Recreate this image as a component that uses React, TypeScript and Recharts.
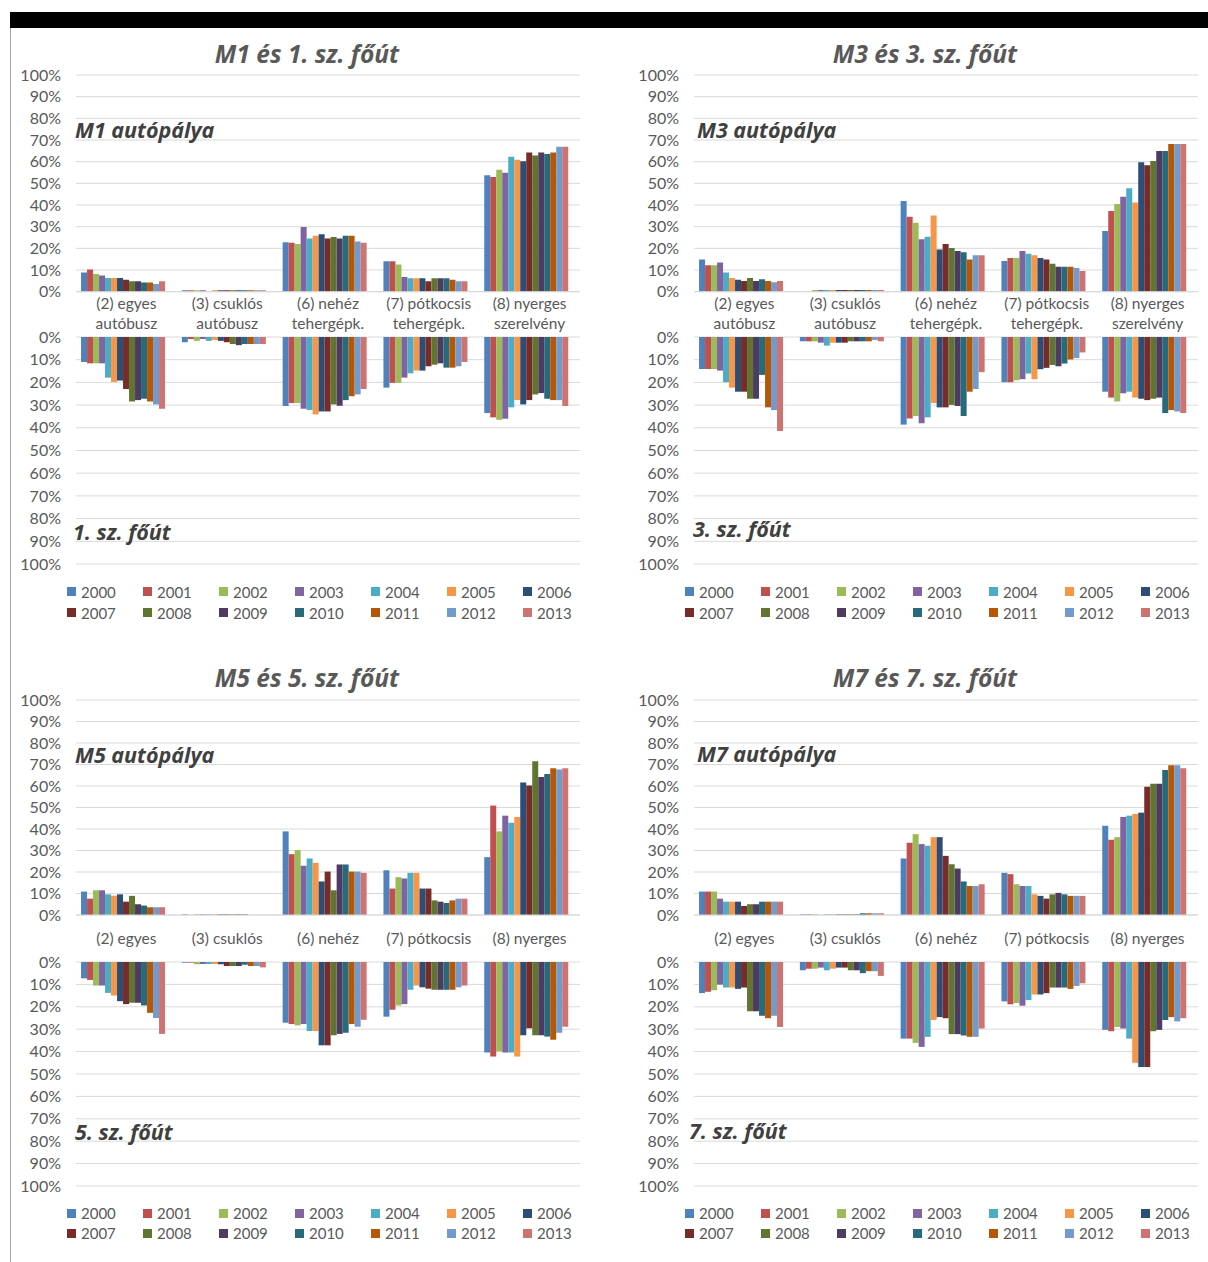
import { BarChart, Bar, XAxis, YAxis, CartesianGrid } from 'recharts'

const years = ['2000', '2001', '2002', '2003', '2004', '2005', '2006', '2007', '2008', '2009', '2010', '2011', '2012', '2013']
const colors = ['#4F81BD', '#C0504D', '#9BBB59', '#8064A2', '#4BACC6', '#F79646', '#2C4D75', '#772C2A', '#5F7530', '#4D3B62', '#276A7C', '#B65708', '#729ACA', '#CD7371']

const catsLong = ['(2) egyes\nautóbusz', '(3) csuklós\nautóbusz', '(6) nehéz\ntehergépk.', '(7) pótkocsis\ntehergépk.', '(8) nyerges\nszerelvény']
const catsShort = ['(2) egyes', '(3) csuklós', '(6) nehéz', '(7) pótkocsis', '(8) nyerges']
const pctTicks = [0, 0.1, 0.2, 0.3, 0.4, 0.5, 0.6, 0.7, 0.8, 0.9, 1]

// rows = categories, columns = years 2000..2013, values in %
const m1Motorway = [
  [8.8, 10.2, 8.2, 7.5, 6.3, 6.3, 6.3, 5.5, 4.8, 4.8, 4.2, 4.2, 3.5, 4.8],
  [0.7, 0.7, 0.7, 0.7, 0, 0.7, 0.7, 0.7, 0.7, 0.7, 0.7, 0.7, 0.7, 0.7],
  [22.8, 22.6, 22.0, 29.8, 24.5, 25.8, 26.5, 24.6, 25.2, 24.5, 25.8, 25.8, 23.2, 22.6],
  [14.0, 14.0, 12.6, 6.8, 6.2, 6.2, 6.2, 4.8, 6.2, 6.2, 6.2, 5.5, 4.8, 4.8],
  [53.7, 52.9, 56.3, 54.9, 62.3, 60.9, 60.2, 64.2, 62.9, 64.2, 63.5, 64.2, 66.9, 66.9],
]
const m1Road = [
  [11.0, 11.6, 11.6, 11.6, 17.9, 19.8, 19.2, 22.9, 28.4, 27.8, 27.2, 28.4, 29.7, 31.6],
  [2.3, 0.9, 1.7, 0.9, 1.7, 1.3, 1.7, 2.3, 3.1, 3.6, 3.1, 3.1, 3.1, 3.1],
  [30.4, 29.1, 29.1, 31.6, 32.2, 34.1, 32.8, 32.8, 29.7, 30.3, 27.8, 26.1, 25.3, 22.9],
  [22.3, 20.2, 20.2, 17.9, 16.0, 14.8, 14.8, 12.9, 12.2, 11.6, 13.5, 13.5, 12.9, 11.0],
  [33.5, 35.4, 36.5, 36.0, 31.0, 27.8, 29.7, 27.8, 25.3, 24.7, 27.2, 27.8, 27.8, 30.4],
]
const m3Motorway = [
  [14.8, 12.2, 12.2, 13.5, 8.9, 6.3, 5.5, 4.9, 6.3, 4.9, 5.7, 4.9, 4.3, 4.9],
  [0, 0, 0.8, 0.8, 0.8, 0.8, 0.8, 0.8, 0.8, 0.8, 0.8, 0.8, 0.8, 0.8],
  [41.8, 34.6, 31.8, 24.2, 25.4, 35.2, 19.5, 22.0, 20.2, 18.8, 18.2, 14.9, 16.8, 16.8],
  [14.2, 15.5, 15.5, 18.8, 17.5, 16.8, 15.5, 14.9, 12.9, 11.5, 11.5, 11.5, 10.9, 9.5],
  [28.0, 37.2, 40.5, 43.8, 47.7, 41.2, 59.7, 58.3, 60.3, 64.9, 64.9, 68.2, 68.2, 68.2],
]
const m3Road = [
  [14.1, 14.1, 14.1, 14.8, 19.9, 22.3, 24.1, 24.1, 27.2, 27.2, 16.7, 31.0, 32.2, 41.4],
  [1.9, 1.9, 1.9, 2.5, 3.8, 2.5, 2.5, 2.5, 1.9, 1.9, 1.9, 1.9, 1.3, 1.9],
  [38.6, 35.9, 34.8, 38.0, 35.4, 29.1, 31.0, 31.0, 29.9, 30.4, 34.8, 24.1, 22.9, 15.5],
  [19.9, 19.9, 19.1, 18.6, 16.1, 18.6, 14.2, 13.6, 12.3, 12.9, 11.7, 9.9, 9.3, 6.8],
  [24.1, 26.7, 28.4, 24.8, 24.1, 26.7, 27.2, 27.8, 27.2, 26.7, 33.5, 32.2, 32.8, 33.5],
]
const m5Motorway = [
  [10.9, 7.6, 11.5, 11.5, 9.6, 9.0, 9.6, 6.2, 8.9, 5.0, 4.4, 3.6, 3.6, 3.6],
  [0.3, 0, 0.3, 0.3, 0.3, 0.3, 0.3, 0.3, 0.3, 0.3, 0.3, 0, 0, 0],
  [38.9, 28.3, 30.2, 22.9, 26.3, 24.3, 15.6, 20.2, 11.5, 23.5, 23.5, 20.2, 20.2, 19.6],
  [20.8, 12.3, 17.6, 17.0, 19.6, 19.6, 12.3, 12.3, 6.8, 6.2, 5.6, 6.8, 7.6, 7.6],
  [26.9, 50.9, 38.9, 46.2, 42.9, 45.6, 61.6, 60.2, 71.5, 64.2, 65.6, 68.3, 67.7, 68.3],
]
const m5Road = [
  [7.3, 8.0, 10.5, 10.5, 13.8, 15.0, 17.5, 18.8, 18.2, 18.2, 19.4, 22.7, 25.0, 32.1],
  [0.3, 0.3, 1.0, 0.9, 0.9, 0.9, 1.0, 1.8, 1.8, 1.8, 1.2, 1.8, 1.8, 2.4],
  [27.1, 27.7, 28.3, 27.7, 30.8, 30.8, 37.2, 37.2, 32.7, 32.1, 31.6, 27.7, 28.9, 25.8],
  [24.4, 21.3, 19.4, 18.8, 12.4, 10.5, 11.3, 11.9, 12.4, 12.4, 12.4, 12.4, 11.3, 10.5],
  [40.4, 42.2, 39.9, 40.4, 40.4, 42.2, 32.7, 29.6, 32.7, 32.7, 33.3, 34.7, 31.6, 28.9],
]
const m7Motorway = [
  [10.9, 10.9, 10.9, 7.6, 6.2, 6.2, 6.2, 4.2, 5.0, 5.0, 6.2, 6.2, 6.2, 6.2],
  [0.3, 0.3, 0.3, 0, 0.3, 0.3, 0.3, 0.3, 0.3, 0.3, 0.8, 0.8, 0.8, 0.8],
  [26.3, 33.6, 37.6, 33.0, 32.2, 36.2, 36.2, 27.5, 23.6, 21.6, 15.6, 13.5, 13.5, 14.3],
  [19.6, 19.0, 14.3, 13.5, 13.5, 9.6, 8.9, 7.6, 9.6, 10.3, 9.6, 8.9, 8.9, 8.9],
  [41.5, 35.0, 36.2, 45.6, 46.2, 47.0, 47.6, 59.6, 61.0, 61.0, 67.5, 69.7, 69.7, 68.3],
]
const m7Road = [
  [13.9, 13.3, 12.6, 10.1, 11.4, 11.4, 12.0, 11.4, 22.0, 22.0, 24.0, 25.1, 24.0, 29.0],
  [3.7, 3.0, 3.0, 2.5, 3.7, 3.0, 2.5, 2.5, 3.7, 3.7, 5.0, 4.1, 4.1, 6.2],
  [34.2, 34.2, 36.1, 37.9, 33.4, 25.9, 24.6, 25.1, 32.2, 32.2, 32.8, 33.4, 33.4, 29.7],
  [17.6, 18.9, 18.3, 19.5, 17.0, 14.5, 14.5, 13.9, 11.4, 11.4, 11.4, 12.0, 10.7, 9.5],
  [30.3, 30.9, 29.0, 29.7, 34.2, 45.0, 46.9, 46.9, 30.9, 30.3, 25.9, 24.6, 26.5, 25.1],
]

const FONT = 'Lato, "Open Sans", sans-serif'
const HEAD_FONT = '"Open Sans", Lato, sans-serif'
const GRID = '#D9D9D9'
const TEXT = '#595959'

function buildRows(cats: string[], vals: number[][]) {
  return cats.map((cat, i) => {
    const row: Record<string, string | number> = { cat }
    years.forEach((y, j) => { row[y] = vals[i][j] / 100 })
    return row
  })
}

const fmtPct = (v: number) => `${Math.round(v * 100)}%`

function CatTick({ x, y, payload, firstDy }: any) {
  const lines = String(payload.value).split('\n')
  return (
    <text x={x} y={y} textAnchor="middle" fill={TEXT} fontSize={15.5} fontFamily={FONT}>
      {lines.map((l, i) => (
        <tspan key={i} x={x} dy={i === 0 ? firstDy : 20}>{l}</tspan>
      ))}
    </text>
  )
}

function bars() {
  return years.map((y, i) => (
    <Bar key={y} dataKey={y} fill={colors[i]} isAnimationActive={false} />
  ))
}

interface PanelProps {
  x: number
  title: string
  titleY: number
  cats: string[]
  firstDy: number
  upper: number[][]
  lower: number[][]
  upTop: number
  upBottom: number
  lowTop: number
  lowBottom: number
  upLabel: string
  upLabelPos: [number, number]
  lowLabel: string
  lowLabelPos: [number, number]
  legendY: number
  legendRowH: number
}

function Panel(p: PanelProps) {
  const upData = buildRows(p.cats, p.upper)
  const lowData = buildRows(p.cats, p.lower)
  const upH = 10 + (p.upBottom - p.upTop) + 45
  const lowH = 10 + (p.lowBottom - p.lowTop) + 10
  const yProps = {
    width: 66,
    domain: [0, 1] as [number, number],
    ticks: pctTicks,
    interval: 0 as const,
    tickFormatter: fmtPct,
    axisLine: false,
    tickLine: false,
    tickSize: 0,
    tickMargin: 15,
    tick: { fill: TEXT, fontSize: 16, fontFamily: FONT },
    allowDataOverflow: true,
  }
  const inner = { position: 'absolute' as const, fontFamily: HEAD_FONT, fontWeight: 700, fontStyle: 'italic', fontSize: 21.5, color: '#404040', lineHeight: '26px', whiteSpace: 'nowrap' as const }
  return (
    <>
      <div style={{ position: 'absolute', left: p.x - 3, top: p.titleY - 16, width: 600, textAlign: 'center', fontFamily: HEAD_FONT, fontWeight: 700, fontStyle: 'italic', fontSize: 24.5, lineHeight: '32px', color: TEXT }}>
        {p.title}
      </div>
      <div style={{ position: 'absolute', left: p.x, top: p.upTop - 10 }}>
        <BarChart width={580} height={upH} data={upData} margin={{ top: 10, right: 10, bottom: 0, left: 0 }} barCategoryGap="5%" barGap={0}>
          <CartesianGrid vertical={false} stroke={GRID} />
          <XAxis dataKey="cat" height={45} interval={0} tickLine={false} tickSize={0} tickMargin={0} axisLine={{ stroke: GRID }} tick={<CatTick firstDy={p.firstDy} />} />
          <YAxis {...yProps} />
          {bars()}
        </BarChart>
      </div>
      <div style={{ position: 'absolute', left: p.x, top: p.lowTop - 10 }}>
        <BarChart width={580} height={lowH} data={lowData} margin={{ top: 10, right: 10, bottom: 10, left: 0 }} barCategoryGap="5%" barGap={0}>
          <CartesianGrid vertical={false} stroke={GRID} />
          <XAxis dataKey="cat" hide />
          <YAxis {...yProps} reversed />
          {bars()}
        </BarChart>
      </div>
      <div style={{ ...inner, left: p.upLabelPos[0], top: p.upLabelPos[1] - 14 }}>{p.upLabel}</div>
      <div style={{ ...inner, left: p.lowLabelPos[0], top: p.lowLabelPos[1] - 14 }}>{p.lowLabel}</div>
      <div style={{ position: 'absolute', left: p.x + 57, top: p.legendY - 10, width: 540, display: 'flex', flexWrap: 'wrap' }}>
        {years.map((y, i) => (
          <div key={y} style={{ width: 76, height: p.legendRowH, display: 'flex', alignItems: 'center', fontFamily: FONT, fontSize: 15, color: TEXT }}>
            <span style={{ width: 9, height: 9, background: colors[i], marginRight: 5, display: 'inline-block' }} />
            {y}
          </div>
        ))}
      </div>
    </>
  )
}

export default function App() {
  return (
    <div style={{ position: 'absolute', left: 0, top: 0, width: 1208, height: 1262, background: '#fff', overflow: 'hidden' }}>
      <div style={{ position: 'absolute', left: 10, top: 12, width: 1198, height: 16, background: '#000' }} />
      <div style={{ position: 'absolute', left: 10, top: 28, width: 1, height: 1234, background: '#A6A6A6' }} />
      <Panel x={10} title="M1 és 1. sz. főút" titleY={54} cats={catsLong} firstDy={17}
        upper={m1Motorway} lower={m1Road} upTop={75} upBottom={291.7} lowTop={337} lowBottom={564}
        upLabel="M1 autópálya" upLabelPos={[75, 131]} lowLabel="1. sz. főút" lowLabelPos={[73, 533]}
        legendY={591} legendRowH={21} />
      <Panel x={628} title="M3 és 3. sz. főút" titleY={54} cats={catsLong} firstDy={17}
        upper={m3Motorway} lower={m3Road} upTop={75} upBottom={291.7} lowTop={337} lowBottom={564}
        upLabel="M3 autópálya" upLabelPos={[697, 131]} lowLabel="3. sz. főút" lowLabelPos={[693, 530]}
        legendY={591} legendRowH={21} />
      <Panel x={10} title="M5 és 5. sz. főút" titleY={678} cats={catsShort} firstDy={29}
        upper={m5Motorway} lower={m5Road} upTop={700} upBottom={915} lowTop={962} lowBottom={1186}
        upLabel="M5 autópálya" upLabelPos={[75, 756]} lowLabel="5. sz. főút" lowLabelPos={[75, 1133]}
        legendY={1213} legendRowH={20} />
      <Panel x={628} title="M7 és 7. sz. főút" titleY={678} cats={catsShort} firstDy={29}
        upper={m7Motorway} lower={m7Road} upTop={700} upBottom={915} lowTop={962} lowBottom={1186}
        upLabel="M7 autópálya" upLabelPos={[697, 755]} lowLabel="7. sz. főút" lowLabelPos={[689, 1132]}
        legendY={1213} legendRowH={20} />
    </div>
  )
}
